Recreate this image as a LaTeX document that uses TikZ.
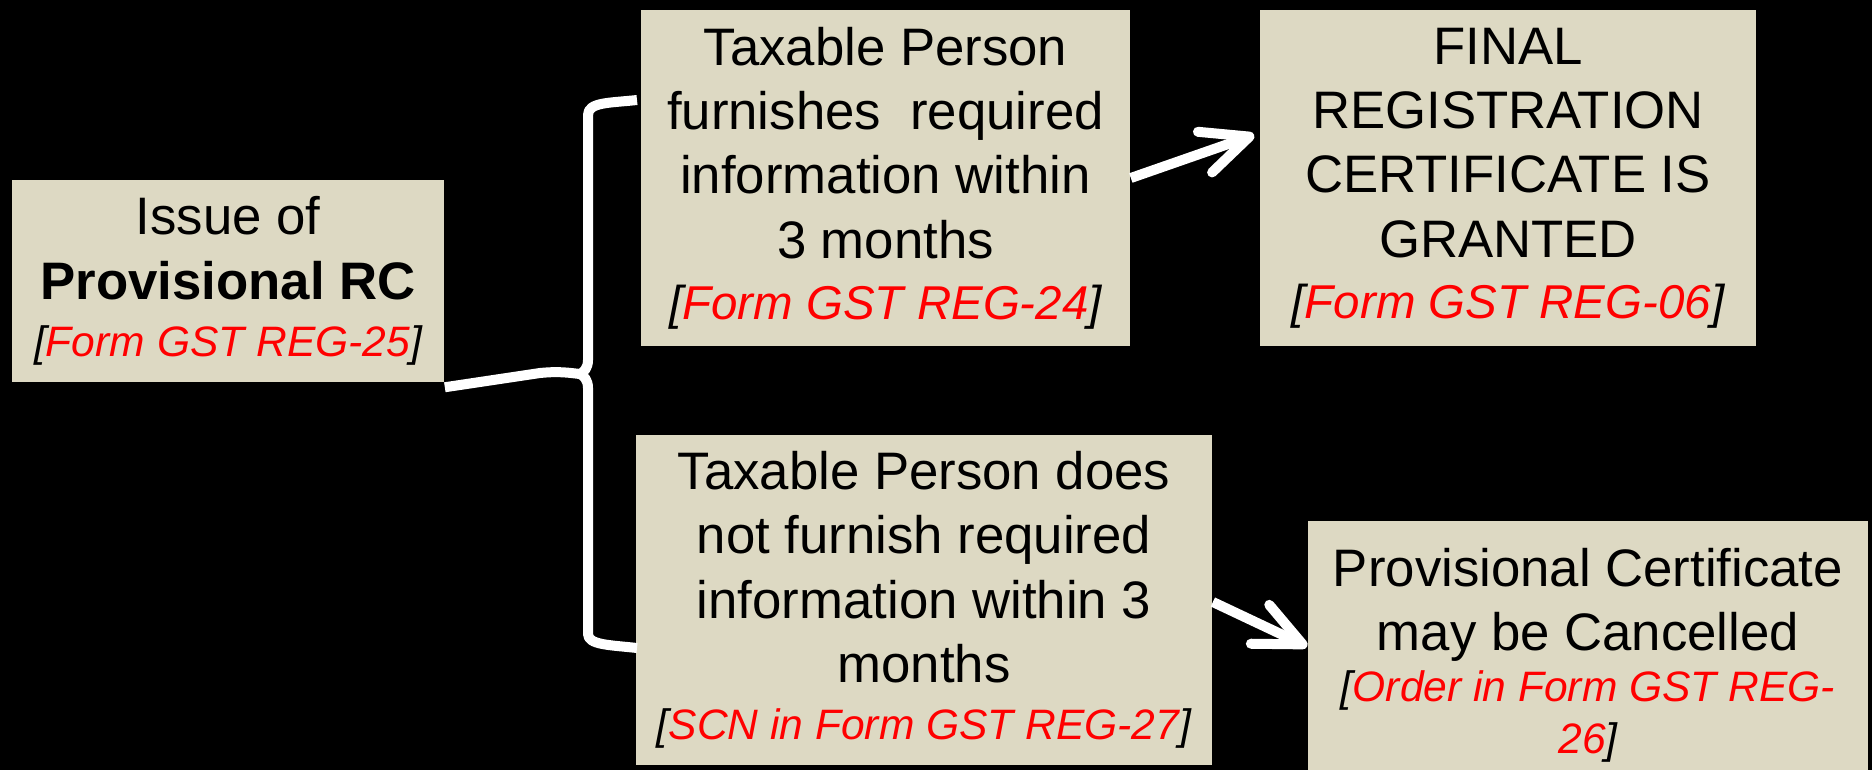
\documentclass[tikz,border=0pt]{standalone}
\usepackage{fontspec}
\setmainfont{Liberation Sans}
\usetikzlibrary{arrows.meta,calc}
\definecolor{boxfill}{HTML}{DDD9C3}
\definecolor{formred}{HTML}{FF0000}
% form references: italic, black brackets, red form number
\newcommand{\formS}[1]{{\fontsize{12.1}{14.5}\selectfont\itshape[\textcolor{formred}{#1}]}}
\newcommand{\formL}[1]{{\fontsize{13.5}{16}\selectfont\itshape[\textcolor{formred}{#1}]}}
\newcommand{\formfont}{\fontsize{12.1}{14.5}\selectfont\itshape}
\begin{document}
\begin{tikzpicture}[x=0.01cm,y=-0.01cm,
  stepbox/.style={rectangle, fill=boxfill, inner sep=0pt, align=center,
    font=\fontsize{15}{18.3}\selectfont, text=black},
  thick white/.style={draw=white, line width=0.1cm},
  flow/.style={thick white, -{Straight Barb[length=4.7mm, width=4.3mm, round]}}]
  % page and background
  \fill[black] (0,0) rectangle (1872,770);
  \useasboundingbox (0,0) rectangle (1872,770);

  \node[stepbox, minimum width=4.32cm, minimum height=2.01cm] (b1) at (228,281)
    {Issue of\\ \textbf{Provisional RC}\\[-2pt]\formS{Form GST REG-25}};
  \node[stepbox, minimum width=4.89cm, minimum height=3.36cm] (b2) at (885.5,178)
    {Taxable Person\\ furnishes\ \ required\\ information within\\ 3 months\\[-1pt]\formL{Form GST REG-24}};
  \node[stepbox, minimum width=4.96cm, minimum height=3.36cm] (b3) at (1508,178)
    {FINAL\\ REGISTRATION\\ CERTIFICATE IS\\ GRANTED\\[-1pt]\formL{Form GST REG-06}};
  \node[stepbox, minimum width=5.76cm, minimum height=3.30cm] (b4) at (924,600)
    {Taxable Person does\\ not furnish required\\ information within 3\\ months\\[-2pt]\formS{SCN in Form GST REG-27}};
  \node[stepbox, minimum width=5.60cm, minimum height=2.69cm] (b5) at (1588,655.5)
    {Provisional Certificate\\ may be Cancelled\\[-3.8pt]{\formfont[\textcolor{formred}{Order in Form GST REG-}}\\[-3.5pt]{\formfont\textcolor{formred}{26}]}};

  % curly brace grouping the two outcomes
  \coordinate (tip) at (580,374);
  \coordinate (btop) at (637,100);
  \coordinate (bbot) at (637,648);
  \draw[thick white, line join=round]
    (btop) .. controls (610,103) and (588,102) .. (588,115)
    -- (588,360) .. controls (588,368) and (584,372) .. (tip)
    .. controls (584,376) and (588,380) .. (588,388)
    -- (588,634) .. controls (588,645) and (610,645) .. (bbot);

  % link from the provisional RC to the brace
  \coordinate (src) at ([yshift=-0.05cm]b1.south east);
  \draw[thick white, line join=round] (src) -- (540,373) .. controls (560,371) and (570,373) .. (tip);

  % outcome arrows
  \coordinate (a1) at ([xshift=-0.05cm,yshift=0.43cm]b3.west);
  \coordinate (a2) at ([yshift=0.09cm]b5.west);
  \draw[flow] (b2.east) -- (a1);
  \draw[flow] ([yshift=-0.02cm]b4.east) -- (a2);
\end{tikzpicture}
\end{document}
